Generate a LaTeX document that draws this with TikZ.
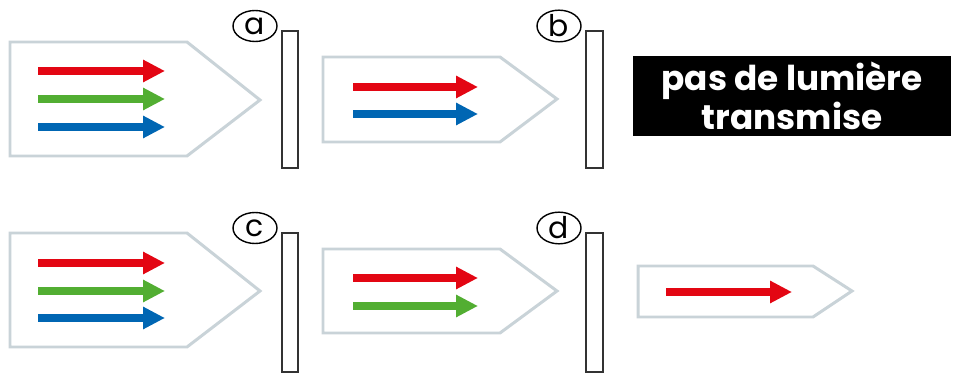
\documentclass[tikz,border=0pt]{standalone}
\usepackage{fontspec}
\setmainfont{Poppins}
\usetikzlibrary{arrows.meta,shapes.geometric}
\definecolor{framegray}{HTML}{C9D3D8}
\definecolor{rayred}{HTML}{E30613}
\definecolor{raygreen}{HTML}{52AE32}
\definecolor{rayblue}{HTML}{0066B3}
\begin{document}
\begin{tikzpicture}[x=0.02cm,y=-0.02cm,
  frame/.style={draw=framegray,line width=1.7pt,line join=miter,fill=white},
  ray/.style={line width=4.3pt,-{Triangle[length=12.5pt,width=12pt]}},
  screen/.style={draw=black!80,line width=0.8pt,fill=white},
  tag/.style={draw=black,line width=0.8pt,ellipse,inner sep=0pt,minimum width=0.88cm,minimum height=0.62cm,font=\fontsize{17}{17}\selectfont},
  banner/.style={fill=black,text=white,inner sep=0pt,minimum width=6.38cm,minimum height=1.62cm,align=center,font=\fontsize{19.5}{20.5}\selectfont\bfseries}]
\useasboundingbox (0,0) rectangle (959,374);
% --- a ---
\draw[frame] (10,42) -- (187,42) -- (260,100) -- (187,156) -- (10,156) -- cycle;
\coordinate (ar1) at (38,71);  \coordinate (ar2) at (165,71);
\coordinate (ag1) at (38,99);  \coordinate (ag2) at (165,99);
\coordinate (ab1) at (38,127); \coordinate (ab2) at (165,127);
\draw[ray,rayred] (ar1) -- (ar2);
\draw[ray,raygreen] (ag1) -- (ag2);
\draw[ray,rayblue] (ab1) -- (ab2);
\draw[screen] (282,31) rectangle (298,168);
\node[tag] (ta) at (255,26) {a};
% --- b ---
\draw[frame] (323,57) -- (500,57) -- (557,99) -- (500,142) -- (323,142) -- cycle;
\coordinate (br1) at (353,87);  \coordinate (br2) at (478,87);
\coordinate (bb1) at (353,114); \coordinate (bb2) at (478,114);
\draw[ray,rayred] (br1) -- (br2);
\draw[ray,rayblue] (bb1) -- (bb2);
\draw[screen] (586,31) rectangle (603,168);
\node[tag] (tb) at (559,26) {b};
\node[banner] (msg) at (792,96) {pas de lumière\\transmise};
% --- c ---
\draw[frame] (10,233) -- (187,233) -- (260,291) -- (187,347) -- (10,347) -- cycle;
\coordinate (cr1) at (38,263);  \coordinate (cr2) at (165,263);
\coordinate (cg1) at (38,291);  \coordinate (cg2) at (165,291);
\coordinate (cb1) at (38,318);  \coordinate (cb2) at (165,318);
\draw[ray,rayred] (cr1) -- (cr2);
\draw[ray,raygreen] (cg1) -- (cg2);
\draw[ray,rayblue] (cb1) -- (cb2);
\draw[screen] (282,233) rectangle (298,372);
\node[tag] (tc) at (255,228) {c};
% --- d ---
\draw[frame] (323,249) -- (500,249) -- (557,291) -- (500,333) -- (323,333) -- cycle;
\coordinate (dr1) at (353,278); \coordinate (dr2) at (478,278);
\coordinate (dg1) at (353,306); \coordinate (dg2) at (478,306);
\draw[ray,rayred] (dr1) -- (dr2);
\draw[ray,raygreen] (dg1) -- (dg2);
\draw[screen] (586,233) rectangle (603,372);
\node[tag] (td) at (559,228) {d};
% --- e ---
\draw[frame] (638,266) -- (813,266) -- (852,291) -- (813,317) -- (638,317) -- cycle;
\coordinate (er1) at (666,292); \coordinate (er2) at (792,292);
\draw[ray,rayred] (er1) -- (er2);
\end{tikzpicture}
\end{document}
